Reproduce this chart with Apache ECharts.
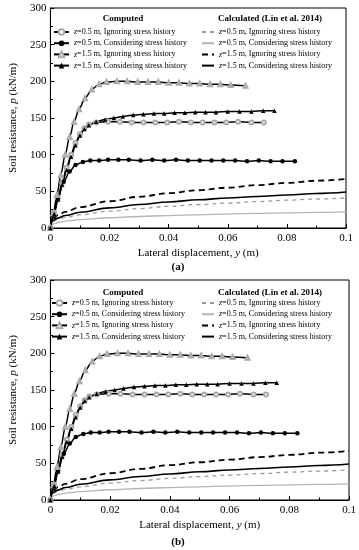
<!DOCTYPE html>
<html><head><meta charset="utf-8">
<script src="https://cdn.jsdelivr.net/npm/echarts@6/dist/echarts.min.js"></script>
<style>html,body{margin:0;padding:0;background:#fff}#c{width:359px;height:550px}</style>
</head><body><div id="c"></div>
<script>
// ---------- Data ----------
// Computed, z=0.5 m, Ignoring stress history (open circles)
const c1X = [0, 0.0012, 0.0025, 0.004, 0.0055, 0.007, 0.0085, 0.010, 0.0115, 0.013, 0.0155, 0.0195, 0.0235, 0.0275, 0.0315, 0.0355, 0.0395, 0.0435, 0.0475, 0.0515, 0.0555, 0.0595, 0.0635, 0.068, 0.0722];
const c1P = [0, 21, 41, 62, 82, 100, 116, 128, 136, 141, 144, 145, 145, 144, 144, 144, 144, 145, 144, 144, 144, 144, 145, 144, 144];
// Computed, z=0.5 m, Considering stress history (filled circles)
const c2X = [0, 0.001, 0.0025, 0.0045, 0.0065, 0.0085, 0.011, 0.0135, 0.0165, 0.0195, 0.023, 0.0265, 0.0305, 0.0345, 0.0385, 0.0425, 0.0465, 0.0505, 0.0545, 0.0585, 0.0625, 0.0665, 0.0705, 0.0745, 0.0785, 0.0827];
const c2P = [0, 17, 40, 63, 77, 86, 90, 92, 92, 93, 93, 93, 92, 93, 92, 93, 92, 92, 92, 92, 92, 91, 92, 91, 91, 91];
// Computed, z=1.5 m, Ignoring stress history (open triangles)
const c3X = [0, 0.001, 0.0022, 0.0035, 0.005, 0.0065, 0.008, 0.0097, 0.0117, 0.014, 0.0165, 0.019, 0.0225, 0.026, 0.0295, 0.033, 0.0365, 0.04, 0.0435, 0.047, 0.0505, 0.054, 0.0575, 0.061, 0.066];
const c3P = [0, 20, 45, 72, 100, 124, 145, 162, 177, 189, 196, 199, 200, 200, 199, 199, 199, 198, 198, 197, 197, 196, 196, 195, 194];
// Computed, z=1.5 m, Considering stress history (filled triangles)
const c4X = [0, 0.0013, 0.0026, 0.004, 0.0055, 0.007, 0.0085, 0.010, 0.0115, 0.013, 0.0155, 0.0185, 0.0215, 0.0245, 0.028, 0.0315, 0.035, 0.0385, 0.042, 0.0455, 0.049, 0.0525, 0.056, 0.06, 0.064, 0.068, 0.072, 0.0758];
const c4P = [0, 19, 39, 59, 79, 97, 113, 126, 135, 140, 145, 148, 150, 152, 154, 155, 156, 156, 157, 157, 158, 158, 158, 159, 159, 159, 160, 160];
// Calculated (Lin et al. 2014)
const calcX = [0, 0.0005, 0.001, 0.0025, 0.005, 0.01, 0.02, 0.03, 0.04, 0.05, 0.06, 0.07, 0.08, 0.09, 0.1];
const l1P = [0, 7, 9, 12, 14.5, 18, 23, 26.5, 29.5, 32, 34, 36, 38, 39.5, 41];      // z=0.5 Ignoring
const l2P = [0, 4, 5.5, 7.5, 9.5, 11.5, 14, 15.7, 17, 18, 19, 20, 20.7, 21.4, 22]; // z=0.5 Considering
const l3P = [0, 10, 13, 17.5, 22, 28.5, 36.5, 42.5, 47.5, 51.5, 55, 58.5, 61.5, 64.5, 67]; // z=1.5 Ignoring
const l4P = [0, 8, 10.5, 13.5, 17, 21.5, 27.5, 32, 35.5, 38.5, 41, 43, 45, 47, 49]; // z=1.5 Considering

const legendTexts = [
  '{i|z}=0.5 m, Ignoring stress history',
  '{i|z}=0.5 m, Considering stress history',
  '{i|z}=1.5 m, Ignoring stress history',
  '{i|z}=1.5 m, Considering stress history'
];
const panelLabels = ['(a)', '(b)'];

// ---------- Layout ----------
const FONT = '"Liberation Serif", "Times New Roman", serif';
const panels = [
  {grid: {left: 40, right: 13, top: 8, height: 220}, legTop: 28, titleY: 19, labelY: 267},
  {grid: {left: 38, right: 10, top: 280, height: 220}, legTop: 299, titleY: 293, labelY: 542}
];

const zip = (xs, ys) => xs.map((x, i) => [x, ys[i]]);
const nameMap = {};
const grids = [], xAxes = [], yAxes = [], series = [], legends = [], graphics = [];

panels.forEach((pn, k) => {
  grids.push(Object.assign({show: true, borderColor: '#000', borderWidth: 1, backgroundColor: 'transparent'}, pn.grid));
  xAxes.push({
    type: 'value', gridIndex: k, min: 0, max: 0.1, interval: 0.02,
    name: '{n|Lateral displacement, }{i|y}{n| (m)}', nameLocation: 'middle', nameGap: 20,
    nameTextStyle: {rich: {n: {fontFamily: FONT, fontSize: 11, color: '#000'}, i: {fontFamily: FONT, fontSize: 11, fontStyle: 'italic', color: '#000'}}},
    axisLine: {show: true, lineStyle: {color: '#000', width: 1}},
    axisTick: {show: true, inside: true, length: 4, lineStyle: {color: '#000'}},
    minorTick: {show: true, splitNumber: 2, length: 2.5, lineStyle: {color: '#000'}},
    splitLine: {show: false},
    axisLabel: {fontFamily: FONT, fontSize: 11, color: '#000', margin: 5}
  });
  yAxes.push({
    type: 'value', gridIndex: k, min: 0, max: 300, interval: 50,
    name: '{n|Soil resistance, }{i|p}{n| (kN/m)}', nameLocation: 'middle', nameGap: 26, nameRotate: 90,
    nameTextStyle: {rich: {n: {fontFamily: FONT, fontSize: 11, color: '#000'}, i: {fontFamily: FONT, fontSize: 11, fontStyle: 'italic', color: '#000'}}},
    axisLine: {show: true, lineStyle: {color: '#000', width: 1}},
    axisTick: {show: true, inside: true, length: 4, lineStyle: {color: '#000'}},
    minorTick: {show: true, splitNumber: 2, length: 2.5, lineStyle: {color: '#000'}},
    splitLine: {show: false},
    axisLabel: {fontFamily: FONT, fontSize: 11, color: '#000', margin: 4}
  });

  const comp = [
    {x: c1X, p: c1P, sym: 'emptyCircle', col: '#aaaaaa', size: 4, bw: 0.7},
    {x: c2X, p: c2P, sym: 'circle', col: '#000', size: 4.5, bw: 0},
    {x: c3X, p: c3P, sym: 'emptyTriangle', col: '#aaaaaa', size: 4, bw: 0.7},
    {x: c4X, p: c4P, sym: 'triangle', col: '#000', size: 4.5, bw: 0}
  ];
  const calc = [
    {p: l1P, col: '#9a9a9a', w: 1.3, type: [4, 4]},
    {p: l2P, col: '#b4b4b4', w: 1.3, type: 'solid'},
    {p: l3P, col: '#000', w: 1.8, type: [6, 4]},
    {p: l4P, col: '#000', w: 1.6, type: 'solid'}
  ];
  const compNames = [], calcNames = [];
  comp.forEach((c, i) => {
    const nm = 'P' + k + 'C' + i;
    nameMap[nm] = legendTexts[i];
    compNames.push(nm);
    series.push({
      name: nm, type: 'line', xAxisIndex: k, yAxisIndex: k,
      data: zip(c.x, c.p), symbol: c.sym, symbolSize: c.size, showSymbol: true,
      smooth: 0.3, smoothMonotone: 'x',
      lineStyle: {color: '#000', width: 1.5, type: 'solid'},
      itemStyle: {color: c.col, borderWidth: c.bw},
      z: 3, animation: false
    });
  });
  calc.forEach((c, i) => {
    const nm = 'P' + k + 'L' + i;
    nameMap[nm] = legendTexts[i];
    calcNames.push(nm);
    series.push({
      name: nm, type: 'line', xAxisIndex: k, yAxisIndex: k,
      data: zip(calcX, c.p), symbol: 'none', smooth: 0.4, smoothMonotone: 'x',
      lineStyle: {color: c.col, width: c.w, type: c.type},
      itemStyle: {color: c.col, opacity: 0},
      z: 2, animation: false
    });
  });
  const legText = {fontFamily: FONT, fontSize: 8, color: '#000',
    rich: {i: {fontFamily: FONT, fontSize: 8, fontStyle: 'italic', color: '#000'}}};
  legends.push({
    data: compNames, orient: 'vertical', left: k === 0 ? 53 : 51, top: pn.legTop,
    itemWidth: 15, itemHeight: 7, itemGap: 3.2, padding: 0,
    formatter: n => nameMap[n], textStyle: legText, selectedMode: false
  });
  legends.push({
    data: calcNames.map(n => ({name: n, itemStyle: {opacity: 0}})), orient: 'vertical', left: 201, top: pn.legTop,
    itemWidth: 12, itemHeight: 7, itemGap: 3.2, padding: 0,
    formatter: n => nameMap[n], textStyle: legText, selectedMode: false
  });
  graphics.push({type: 'text', x: 123, y: pn.titleY,
    style: {text: 'Computed', font: 'bold 9px ' + FONT, fill: '#000', textAlign: 'center', textVerticalAlign: 'middle', align: 'center', verticalAlign: 'middle'}});
  graphics.push({type: 'text', x: 270, y: pn.titleY,
    style: {text: 'Calculated (Lin et al. 2014)', font: 'bold 9px ' + FONT, fill: '#000', textAlign: 'center', textVerticalAlign: 'middle', align: 'center', verticalAlign: 'middle'}});
  graphics.push({type: 'text', x: 178, y: pn.labelY,
    style: {text: panelLabels[k], font: 'bold 11px ' + FONT, fill: '#000', textAlign: 'center', textVerticalAlign: 'middle', align: 'center', verticalAlign: 'middle'}});
});

const chart = echarts.init(document.getElementById('c'), null, {renderer: 'canvas'});
chart.setOption({
  animation: false,
  backgroundColor: '#fff',
  grid: grids, xAxis: xAxes, yAxis: yAxes, series: series, legend: legends,
  graphic: graphics
});
</script>
</body></html>
